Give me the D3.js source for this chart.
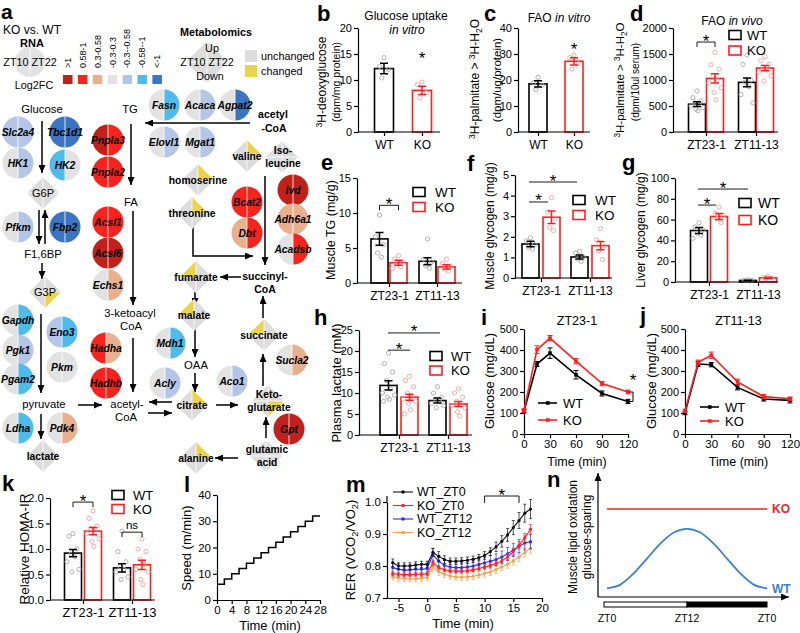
<!DOCTYPE html>
<html>
<head>
<meta charset="utf-8">
<script src="https://cdn.jsdelivr.net/npm/d3@7/dist/d3.min.js"></script>
<style>
  body { margin: 0; background: #fff; }
  text { font-family: Arial, "Liberation Sans", Helvetica, sans-serif; }
</style>
</head>
<body>
<script>
// ================= data =================
// a: RNA log2FC bins and genes (left half = ZT10, right half = ZT22)
var fcBins = [">1", "0.58-1", "0.3-0.58", "-0.3-0.3", "-0.3--0.58", "-0.58--1", "<-1"];
var fcColors = ["#c1211b", "#f7231c", "#e9b08d", "#e2e2e2", "#b3c6e7", "#4fbbeb", "#3b74c1"];
var genes = ["Slc2a4","Tbc1d1","HK1","HK2","Pfkm","Fbp2","Gapdh","Eno3","Pgk1","Pkm","Pgam2","Ldha","Pdk4",
             "Pnpla3","Pnpla2","Acsl1","Acsl6","Echs1","Hadha","Hadhb",
             "Fasn","Acaca","Agpat2","Elovl1","Mgat1","Bcat2","Dbt","Ivd","Adh6a1","Acadsb",
             "Mdh1","Acly","Aco1","Sucla2","Gpt"];
var geneZT10 = [4,6,3,5,3,6,3,4,3,3,3,3,3, 0,1,1,0,3,1,1, 3,3,3,3,3,1,2,0,2,3, 3,3,3,3,0];
var geneZT22 = [4,6,4,3,4,6,5,5,4,3,5,5,2, 1,1,1,0,2,2,1, 5,4,6,4,4,1,1,0,2,1, 5,4,4,2,0];
// metabolomics: which quadrant changed (tl = ZT10 up, tr = ZT22 up, bl = ZT10 down, br = ZT22 down)
var metabolites = ["G6P","G3P","lactate","valine","Iso-leucine","homoserine","threonine","fumarate",
                   "malate","citrate","succinate","Keto-glutarate","glutamic acid","alanine"];
var metChanged = ["","br","","tr","","tr","tr","tl","tl","tr","tl","br","","tr"];

// b glucose uptake in vitro
var uptakeMean = [12.2, 8.0], uptakeSem = [1.0, 0.8];
var uptakeDots = [[14.3, 12.6, 12.0, 10.4], [9.6, 9.1, 7.6, 6.6]];
// c FAO in vitro
var faoVitroMean = [18.5, 27.2], faoVitroSem = [1.2, 1.4];
var faoVitroDots = [[21.0, 19.0, 18.0, 16.3], [29.6, 28.6, 26.3, 24.2]];
// groups for d-h, k
var zt = ["ZT23-1", "ZT11-13"];
// d FAO in vivo
var faoWT = [535, 955], faoWTsem = [45, 85], faoKO = [1030, 1230], faoKOsem = [90, 50];
var faoWTdots = [[790,660,600,560,530,500,470,440,410], [1480,1300,1000,960,870,720,560]];
var faoKOdots = [[1530,1290,1210,1080,1000,940,850,760,620], [1450,1370,1300,1250,1190,1150,1080,980]];
// e muscle TG
var tgWT = [6.3, 3.1], tgWTsem = [0.9, 0.5], tgKO = [2.9, 2.3], tgKOsem = [0.35, 0.3];
var tgWTdots = [[9.7,6.6,5.5,4.3,3.7], [6.3,3.4,3.0,2.5,2.1]];
var tgKOdots = [[3.9,3.4,3.0,2.7,2.3,2.1], [3.4,2.8,2.4,2.0,1.7]];
// f muscle glycogen
var mgWT = [1.65, 1.02], mgWTsem = [0.13, 0.1], mgKO = [2.95, 1.57], mgKOsem = [0.3, 0.2];
var mgWTdots = [[1.95,1.8,1.62,1.5,1.4], [1.3,1.2,1.0,0.92,0.8]];
var mgKOdots = [[3.9,3.2,2.9,2.45,2.3], [2.4,1.85,1.55,1.3,0.9]];
// g liver glycogen
var lgWT = [49.5, 1.5], lgWTsem = [2.8, 0.3], lgKO = [63, 4], lgKOsem = [2.8, 0.6];
var lgWTdots = [[57,53,50,47,45,42], [2.2,1.8,1.5,1.2,0.9]];
var lgKOdots = [[72,66,64,61,57], [5.2,4.5,3.8,3.2]];
// h plasma lactate
var plWT = [11.8, 8.2], plWTsem = [1.1, 0.6], plKO = [9.0, 7.4], plKOsem = [0.7, 0.6];
var plWTdots = [[19.5,17,15,13,11,10,9.5,9,8.5,8], [11.5,10,9,8.5,8,7.5,7,6.5]];
var plKOdots = [[14,13,11.5,10,9,8.5,8,7.5,6,5], [11,10,9,8,7.5,7,6.5,5.5,4.5]];
// k HOMA-IR
var hoWT = [0.92, 0.63], hoWTsem = [0.07, 0.08], hoKO = [1.35, 0.69], hoKOsem = [0.07, 0.09];
var hoWTdots = [[1.3,1.25,1.0,0.9,0.85,0.75,0.6,0.55], [1.35,0.95,0.75,0.65,0.6,0.55,0.45,0.4]];
var hoKOdots = [[1.75,1.6,1.45,1.4,1.35,1.3,1.2,1.15,1.05], [1.2,1.0,0.95,0.8,0.7,0.6,0.55,0.4,0.3]];

// i, j glucose tolerance
var gttTime = [0, 15, 30, 60, 90, 120];
var gttWT1 = [108, 333, 385, 282, 193, 155], gttWT1sem = [8, 12, 25, 20, 12, 10];
var gttKO1 = [112, 402, 457, 347, 240, 200], gttKO1sem = [8, 18, 12, 13, 10, 9];
var gttWT2 = [100, 333, 330, 222, 167, 160], gttWT2sem = [8, 12, 10, 12, 10, 12];
var gttKO2 = [110, 342, 375, 248, 178, 168], gttKO2sem = [8, 10, 15, 13, 10, 8];

// l treadmill speed protocol
var runTime = [0,2,4,6,8,10,12,14,16,18,20,22,24,26,28];
var runSpeed = [6,8,10,12,14,16,18,20,22,24,26,28,30,32,32];

// m RER
var rerTime = [-6,-5,-4,-3,-2,-1,0,1,2,3,4,5,6,7,8,9,10,11,12,13,14,15,16,17,18];
var rerWT0 = [0.81,0.80,0.80,0.80,0.803,0.805,0.805,0.843,0.83,0.82,0.815,0.815,0.816,0.818,0.821,0.826,0.833,0.845,0.86,0.877,0.897,0.92,0.942,0.965,0.978];
var rerWT0sem = [0.012,0.01,0.01,0.01,0.01,0.01,0.01,0.012,0.015,0.012,0.01,0.01,0.01,0.01,0.01,0.01,0.012,0.012,0.015,0.018,0.02,0.022,0.025,0.028,0.03];
var rerKO0 = [0.776,0.774,0.773,0.773,0.774,0.774,0.776,0.81,0.795,0.788,0.785,0.784,0.784,0.785,0.788,0.792,0.797,0.802,0.808,0.816,0.828,0.845,0.865,0.888,0.915];
var rerKO0sem = [0.006,0.006,0.006,0.006,0.006,0.006,0.006,0.008,0.007,0.006,0.006,0.006,0.006,0.006,0.006,0.007,0.007,0.008,0.008,0.009,0.01,0.011,0.012,0.014,0.015];
var rerWT12 = [0.795,0.79,0.787,0.788,0.79,0.79,0.792,0.835,0.815,0.802,0.797,0.795,0.795,0.797,0.8,0.805,0.81,0.815,0.82,0.828,0.838,0.85,0.862,0.872,0.876];
var rerWT12sem = [0.018,0.017,0.016,0.016,0.016,0.016,0.017,0.02,0.018,0.016,0.015,0.015,0.015,0.015,0.016,0.016,0.017,0.018,0.018,0.019,0.02,0.02,0.021,0.022,0.022];
var rerKO12 = [0.766,0.763,0.762,0.76,0.76,0.762,0.764,0.797,0.782,0.774,0.769,0.766,0.765,0.766,0.768,0.772,0.777,0.782,0.789,0.797,0.806,0.816,0.828,0.842,0.855];
var rerKO12sem = [0.01,0.01,0.01,0.01,0.01,0.01,0.01,0.012,0.011,0.01,0.01,0.01,0.01,0.01,0.01,0.01,0.011,0.011,0.012,0.012,0.013,0.013,0.014,0.014,0.015];

// n schematic
var nZT = [0,2,4,6,8,10,12,14,16,18,20,22,24];
var nWT = [7,10,19,31,43,52,55,52,43,31,19,10,7];
var nKOzt = [0, 24], nKO = [71, 71];

// ================= layout (panel a) =================
var geneXY = {
  Slc2a4:[18,132], Tbc1d1:[65,132], HK1:[18,163], HK2:[65,165], Pfkm:[18,227], Fbp2:[65,227],
  Gapdh:[18,320], Eno3:[62,332], Pgk1:[18,350], Pkm:[62,367], Pgam2:[18,379], Ldha:[18,428], Pdk4:[62,428],
  Pnpla3:[108,140], Pnpla2:[108,172], Acsl1:[108,222], Acsl6:[108,253], Echs1:[108,285],
  Hadha:[106,348], Hadhb:[106,383],
  Fasn:[164,105], Acaca:[200,105], Agpat2:[235,105], Elovl1:[164,142], Mgat1:[200,142],
  Bcat2:[247,202], Dbt:[247,233], Ivd:[293,190], Adh6a1:[293,219], Acadsb:[293,249],
  Mdh1:[170,343], Acly:[165,383], Aco1:[232,381], Sucla2:[292,360], Gpt:[289,429]
};
var metXY = {
  "G6P":[43,193], "G3P":[45,292], "lactate":[43,456], "valine":[247,156], "Iso-leucine":[282,157],
  "homoserine":[198,180], "threonine":[192,213], "fumarate":[196,277], "malate":[194,315],
  "citrate":[192,405], "succinate":[264,335], "Keto-glutarate":[268,401], "glutamic acid":[266,456],
  "alanine":[196,458]
};
var freeText = [
  ["Glucose",42,113,0], ["TG",130,113,0], ["F1,6BP",43,258,0], ["FA",131,206,0],
  ["3-ketoacyl",130,317,0], ["CoA",131,330,0], ["pyruvate",44,408,0], ["acetyl-",127,408,0], ["CoA",126,421,0],
  ["acetyl",273,118,1], ["-CoA",274,132,1], ["succinyl-",265,280,1], ["CoA",265,293,1], ["OAA",196,369,0]
];
var arrows = [
  [42,121,42,173], [39,210,39,244], [45,244,45,210], [42,263,42,279], [41,314,41,393],
  [78,405,102,405], [41,414,41,439], [131,124,131,185], [133,211,133,305], [133,338,133,392],
  [250,123,145,123], [265,176,265,265], [241,277,220,277], [195,292,195,306], [195,329,195,357],
  [195,373,195,392], [172,402,149,402], [148,413,172,413], [216,405,238,405], [263,386,263,354],
  [263,318,263,296], [266,438,266,417], [238,458,215,458]
];

// ================= drawing =================
var WT_COL = "#000", KO_COL = "#ff1f1f", WT_DOT = "#a9a9a9", KO_DOT = "#f3a2a2";
var GREY_D = "#dcdcdc", YEL = "#ebd34c";
var jit = [0, -4, 4, -2, 2, -6, 6, -1, 1, -5, 5, -3, 3];

var svg = d3.select("body").append("svg").attr("width", 800).attr("height", 633)
  .style("background", "#fff");
svg.append("defs").append("marker").attr("id", "ah").attr("viewBox", "0 0 8 7")
  .attr("refX", 8).attr("refY", 3.5).attr("markerWidth", 8).attr("markerHeight", 7)
  .attr("markerUnits", "userSpaceOnUse").attr("orient", "auto")
  .append("path").attr("d", "M0,0L8,3.5L0,7Z").attr("fill", "#000");

function txt(g, x, y, s, o) {
  o = o || {};
  var t = g.append("text").attr("x", x).attr("y", y).attr("font-size", o.fs || 10.5)
    .attr("text-anchor", o.anchor || "middle").text(s);
  if (o.bold) t.attr("font-weight", "bold");
  if (o.italic) t.attr("font-style", "italic");
  if (o.fill) t.attr("fill", o.fill);
  return t;
}
// rotated axis title, parts = [[string, "sup"|"sub"|null], ...]
function vlabel(g, cx, cy, parts, fs) {
  var t = g.append("text").attr("transform", "translate(" + (cx + fs * 0.35) + "," + cy + ") rotate(-90)")
    .attr("text-anchor", "middle").attr("font-size", fs);
  var prev = 0;
  parts.forEach(function (p) {
    var s = p[1] === "sup" ? -fs * 0.38 : p[1] === "sub" ? fs * 0.25 : 0;
    t.append("tspan").attr("dy", s - prev).attr("font-size", p[1] ? fs * 0.72 : fs).text(p[0]);
    prev = s;
  });
}
function styleAxis(ax, fs) {
  ax.selectAll("text").attr("font-size", fs).attr("fill", "#000");
  ax.selectAll("line,path").attr("stroke", "#000").attr("stroke-width", 1.2);
}
function star(g, cx, lineY) {
  txt(g, cx, lineY + 4.5, "*", {fs: 17});
}
function panelLetter(s, x, y, fs) {
  txt(svg, x, y, s, {fs: fs || 22, bold: true, anchor: "start"});
}
function errBar(g, cx, yLo, yHi, cap, col, sw) {
  g.append("path").attr("d", "M" + cx + "," + yLo + "V" + yHi + "M" + (cx - cap) + "," + yHi + "H" + (cx + cap) +
    "M" + (cx - cap) + "," + yLo + "H" + (cx + cap))
    .attr("stroke", col).attr("stroke-width", sw).attr("fill", "none");
}

// ---------- panel a ----------
var A = svg.append("g");
panelLetter("a", 1, 19, 21);
function splitCircle(g, cx, cy, r, cl, cr) {
  var arc = d3.arc().innerRadius(0).outerRadius(r);
  var gg = g.append("g").attr("transform", "translate(" + cx + "," + cy + ")");
  gg.append("path").attr("d", arc({startAngle: Math.PI, endAngle: 2 * Math.PI})).attr("fill", cl);
  gg.append("path").attr("d", arc({startAngle: 0, endAngle: Math.PI})).attr("fill", cr);
  gg.append("line").attr("y1", -r).attr("y2", r).attr("stroke", "#fff").attr("stroke-width", 0.8);
  return gg;
}
function diamond(g, cx, cy, h, q) {
  var gg = g.append("g").attr("transform", "translate(" + cx + "," + cy + ")");
  var tri = {tl: [[-h, 0], [0, -h]], tr: [[0, -h], [h, 0]], br: [[h, 0], [0, h]], bl: [[0, h], [-h, 0]]};
  Object.keys(tri).forEach(function (k) {
    gg.append("path").attr("d", "M0,0L" + tri[k][0] + "L" + tri[k][1] + "Z").attr("fill", k === q ? YEL : GREY_D);
  });
  gg.append("path").attr("d", "M" + (-h) + ",0H" + h + "M0," + (-h) + "V" + h)
    .attr("stroke", "#fff").attr("stroke-width", 0.8);
}

// RNA legend
txt(A, 3, 34, "KO vs. WT", {fs: 12, anchor: "start"});
txt(A, 32, 47, "RNA", {fs: 11, bold: true});
splitCircle(A, 30, 62, 15, fcColors[3], fcColors[3]);
txt(A, 30, 66, "ZT10 ZT22", {fs: 10.8});
txt(A, 34, 89, "Log2FC", {fs: 10.8});
fcBins.forEach(function (b, i) {
  var x0 = 63 + i * 14.9;
  A.append("rect").attr("x", x0).attr("y", 75).attr("width", 9.5).attr("height", 9).attr("fill", fcColors[i]);
  A.append("text").attr("transform", "translate(" + (x0 + 4.75 + 3.1) + ",68) rotate(-90)")
    .attr("font-size", 9).text(b);
});
// metabolomics legend
txt(A, 216, 36, "Metabolomics", {fs: 10.8, bold: true});
diamond(A, 207, 62, 21, "");
txt(A, 212, 52, "Up", {fs: 10.8});
txt(A, 207, 66, "ZT10  ZT22", {fs: 10.8});
txt(A, 210, 80, "Down", {fs: 10.8});
A.append("rect").attr("x", 245).attr("y", 50).attr("width", 12).attr("height", 12).attr("fill", GREY_D);
A.append("rect").attr("x", 245).attr("y", 65).attr("width", 12).attr("height", 12).attr("fill", YEL);
txt(A, 261, 60, "unchanged", {fs: 10.8, anchor: "start"});
txt(A, 261, 75, "changed", {fs: 10.8, anchor: "start"});

// arrows
arrows.forEach(function (a) {
  A.append("line").attr("x1", a[0]).attr("y1", a[1]).attr("x2", a[2]).attr("y2", a[3])
    .attr("stroke", "#000").attr("stroke-width", 1.5).attr("marker-end", "url(#ah)");
});
A.append("path").attr("d", d3.line()([[193, 223], [193, 256], [253, 256]]))
  .attr("fill", "none").attr("stroke", "#000").attr("stroke-width", 1.5).attr("marker-end", "url(#ah)");

// metabolite diamonds
metabolites.forEach(function (m, i) {
  var p = metXY[m];
  diamond(A, p[0], p[1], 16, metChanged[i]);
});
var metLines = {"Iso-leucine": ["Iso-", "leucine"], "Keto-glutarate": ["Keto-", "glutarate"],
                "glutamic acid": ["glutamic", "acid"]};
metabolites.forEach(function (m) {
  var p = metXY[m];
  var plain = (m === "G6P" || m === "G3P");
  if (metLines[m]) {
    txt(A, p[0] + 1, p[1] - 3, metLines[m][0], {fs: 10.3, bold: true});
    txt(A, p[0] + 1, p[1] + 10, metLines[m][1], {fs: 10.3, bold: true});
  } else {
    txt(A, p[0], p[1] + 3.8, m, {fs: plain ? 11 : 10.3, bold: !plain});
  }
});
freeText.forEach(function (t) {
  txt(A, t[1], t[2], t[0], {fs: t[3] === 1 ? 10.5 : 11.3, bold: t[3] === 1});
});
// gene circles
genes.forEach(function (gname, i) {
  var p = geneXY[gname];
  splitCircle(A, p[0], p[1], 15.5, fcColors[geneZT10[i]], fcColors[geneZT22[i]]);
  txt(A, p[0], p[1] + 3.6, gname, {fs: 10.3, bold: true, italic: true});
});

// ---------- bar panels ----------
function grouped(off, wtM, wtS, wtD, koM, koS, koD) {
  var out = [];
  zt.forEach(function (c, i) {
    out.push({cat: c, dx: -off, geno: 0, mean: wtM[i], sem: wtS[i], dots: wtD[i]});
    out.push({cat: c, dx: off, geno: 1, mean: koM[i], sem: koS[i], dots: koD[i]});
  });
  return out;
}
function pair(mean, sem, dots) {
  return [{cat: "WT", dx: 0, geno: 0, mean: mean[0], sem: sem[0], dots: dots[0]},
          {cat: "KO", dx: 0, geno: 1, mean: mean[1], sem: sem[1], dots: dots[1]}];
}
function barPanel(p) {
  var g = svg.append("g");
  var y = d3.scaleLinear().domain(p.yDomain).range(p.yRange);
  var x = d3.scalePoint().domain(p.cats).range(p.catRange);
  var y0 = y(p.yDomain[0]);
  p.bars.forEach(function (b) {
    var cx = x(b.cat) + b.dx, col = b.geno ? KO_COL : WT_COL;
    g.append("rect").attr("x", cx - p.bw / 2).attr("y", y(b.mean)).attr("width", p.bw)
      .attr("height", y0 - y(b.mean)).attr("fill", "#fff").attr("stroke", col).attr("stroke-width", 1.6);
    b.dots.forEach(function (v, j) {
      g.append("circle").attr("cx", cx + jit[j % jit.length] * p.bw / 17).attr("cy", y(v)).attr("r", 2.1)
        .attr("fill", "none").attr("stroke", b.geno ? KO_DOT : WT_DOT).attr("stroke-width", 0.9);
    });
    errBar(g, cx, y(b.mean - b.sem), y(b.mean + b.sem), 4, col, 1.5);
  });
  var ya = g.append("g").attr("transform", "translate(" + p.axisX + ",0)")
    .call(d3.axisLeft(y).tickValues(p.ticks).tickFormat(p.fmt || d3.format("d"))
      .tickSize(4).tickSizeOuter(0).tickPadding(2));
  styleAxis(ya, p.tfs || 11);
  g.append("line").attr("x1", p.axisX).attr("x2", p.xEnd).attr("y1", y0).attr("y2", y0)
    .attr("stroke", "#000").attr("stroke-width", 1.2);
  var xa = g.append("g").attr("transform", "translate(0," + y0 + ")")
    .call(d3.axisBottom(x).tickSize(4).tickPadding(p.xpad || 4));
  xa.select(".domain").remove();
  styleAxis(xa, p.xfs || 12);
  (p.sig || []).forEach(function (s) {
    var x1 = x(s.c1) + s.d1, x2 = x(s.c2) + s.d2, yy = y(s.v);
    if (!s.noLine) {
      var d = s.tick ? "M" + x1 + "," + (yy + 5) + "V" + yy + "H" + x2 + "V" + (yy + 5) : "M" + x1 + "," + yy + "H" + x2;
      g.append("path").attr("d", d).attr("fill", "none").attr("stroke", "#000").attr("stroke-width", 0.9);
    }
    if (s.t === "*") star(g, (x1 + x2) / 2, yy);
    else txt(g, (x1 + x2) / 2, yy - 3, s.t, {fs: 11.5});
  });
  if (p.legend) {
    var L = p.legend;
    [WT_COL, KO_COL].forEach(function (c, i) {
      var cy = L.y + i * L.dy;
      g.append("rect").attr("x", L.x).attr("y", cy - 4.5).attr("width", 12).attr("height", 9)
        .attr("fill", "#fff").attr("stroke", c).attr("stroke-width", 1.6);
      txt(g, L.tx, cy + L.fs * 0.36, i ? "KO" : "WT", {fs: L.fs, anchor: "start"});
    });
  }
  p.ylab.forEach(function (l) { vlabel(g, l.x, l.y, l.parts, l.fs); });
  return g;
}

var palm = [["3", "sup"], ["H-palmitate > "], ["3", "sup"], ["H-H"], ["2", "sub"], ["O"]];

// b
panelLetter("b", 317, 21);
var gb = barPanel({cats: ["WT", "KO"], catRange: [384, 422], bw: 19, yDomain: [0, 20], yRange: [132, 28],
  ticks: [0, 5, 10, 15, 20], axisX: 358, xEnd: 440, bars: pair(uptakeMean, uptakeSem, uptakeDots),
  sig: [{c1: "KO", d1: 0, c2: "KO", d2: 0, v: 14.0, t: "*", noLine: true}],
  ylab: [{x: 322, y: 82, fs: 12, parts: [["3", "sup"], ["H-deoxyglucose"]]},
         {x: 336, y: 82, fs: 10.5, parts: [["(dpm/mg protein)"]]}]});
txt(gb, 406, 20, "Glucose uptake", {fs: 12});
txt(gb, 407, 34, "in vitro", {fs: 12, italic: true});

// c
panelLetter("c", 484, 21);
var gc = barPanel({cats: ["WT", "KO"], catRange: [538, 574], bw: 18, yDomain: [0, 40], yRange: [132, 28],
  ticks: [0, 10, 20, 30, 40], axisX: 518, xEnd: 590, bars: pair(faoVitroMean, faoVitroSem, faoVitroDots),
  sig: [{c1: "KO", d1: 0, c2: "KO", d2: 0, v: 31.2, t: "*", noLine: true}],
  ylab: [{x: 475, y: 79, fs: 12, parts: palm}, {x: 497, y: 80, fs: 11.5, parts: [["(dpm/ug/protein)"]]}]});
var tc = txt(gc, 559, 22, "FAO ", {fs: 12});
tc.append("tspan").attr("font-style", "italic").text("in vitro");

// d
panelLetter("d", 630, 21);
var gd = barPanel({cats: zt, catRange: [706, 756], bw: 17, yDomain: [0, 2000], yRange: [132, 28],
  ticks: [0, 500, 1000, 1500, 2000], axisX: 673, xEnd: 778,
  bars: grouped(9, faoWT, faoWTsem, faoWTdots, faoKO, faoKOsem, faoKOdots),
  sig: [{c1: "ZT23-1", d1: -9, c2: "ZT23-1", d2: 9, v: 1730, tick: true, t: "*"}],
  legend: {x: 729, y: 35, dy: 15.5, tx: 747, fs: 13},
  ylab: [{x: 620, y: 80, fs: 11.5, parts: palm}, {x: 635, y: 82, fs: 10, parts: [["(dpm/10ul serum)"]]}]});
var td = txt(gd, 732, 25, "FAO ", {fs: 12});
td.append("tspan").attr("font-style", "italic").text("in vivo");

// e
panelLetter("e", 321, 170);
barPanel({cats: zt, catRange: [389, 437], bw: 17, yDomain: [0, 15], yRange: [283, 178],
  ticks: [0, 5, 10, 15], axisX: 357, xEnd: 462,
  bars: grouped(9.5, tgWT, tgWTsem, tgWTdots, tgKO, tgKOsem, tgKOdots),
  sig: [{c1: "ZT23-1", d1: -9.5, c2: "ZT23-1", d2: 9.5, v: 11.1, tick: true, t: "*"}],
  legend: {x: 413, y: 192, dy: 15, tx: 435, fs: 13.5},
  ylab: [{x: 331, y: 230, fs: 12.5, parts: [["Muscle TG (mg/g)"]]}]});

// f
panelLetter("f", 467, 171);
barPanel({cats: zt, catRange: [541, 590], bw: 17, yDomain: [0, 5], yRange: [278, 175],
  ticks: [0, 1, 2, 3, 4, 5], axisX: 515, xEnd: 612,
  bars: grouped(10.5, mgWT, mgWTsem, mgWTdots, mgKO, mgKOsem, mgKOdots),
  sig: [{c1: "ZT23-1", d1: -12, c2: "ZT23-1", d2: 7, v: 3.69, t: "*"},
        {c1: "ZT23-1", d1: -12, c2: "ZT11-13", d2: -13, v: 4.66, t: "*"}],
  legend: {x: 573, y: 200, dy: 15, tx: 595, fs: 13.5},
  ylab: [{x: 490, y: 226, fs: 12, parts: [["Muscle glycogen (mg/g)"]]}]});

// g
panelLetter("g", 622, 170);
barPanel({cats: zt, catRange: [709, 758], bw: 17, yDomain: [0, 100], yRange: [282, 178],
  ticks: [0, 20, 40, 60, 80, 100], axisX: 675, xEnd: 778,
  bars: grouped(10, lgWT, lgWTsem, lgWTdots, lgKO, lgKOsem, lgKOdots),
  sig: [{c1: "ZT23-1", d1: -11, c2: "ZT23-1", d2: 7, v: 74, t: "*"},
        {c1: "ZT23-1", d1: -11, c2: "ZT11-13", d2: -10, v: 89.4, t: "*"}],
  legend: {x: 739, y: 203, dy: 17, tx: 758, fs: 14},
  ylab: [{x: 641, y: 230, fs: 12, parts: [["Liver glycogen (mg/g)"]]}]});

// h
panelLetter("h", 314, 325);
barPanel({cats: zt, catRange: [399, 448], bw: 17, yDomain: [0, 25], yRange: [435, 330],
  ticks: [0, 5, 10, 15, 20, 25], axisX: 359, xEnd: 472,
  bars: grouped(10.5, plWT, plWTsem, plWTdots, plKO, plKOsem, plKOdots),
  sig: [{c1: "ZT23-1", d1: -11, c2: "ZT23-1", d2: 11, v: 20.2, t: "*"},
        {c1: "ZT23-1", d1: -11, c2: "ZT11-13", d2: -8, v: 24.3, t: "*"}],
  legend: {x: 430, y: 356, dy: 14.5, tx: 451, fs: 13},
  ylab: [{x: 336, y: 383, fs: 13, parts: [["Plasma lactate (mM)"]]}]});

// k
panelLetter("k", 2, 491);
barPanel({cats: zt, catRange: [83, 132], bw: 17, yDomain: [0, 2], yRange: [600, 498],
  ticks: [0, 0.5, 1, 1.5, 2], fmt: d3.format(".1f"), tfs: 11.5, xfs: 13, axisX: 50, xEnd: 155,
  bars: grouped(10, hoWT, hoWTsem, hoWTdots, hoKO, hoKOsem, hoKOdots),
  sig: [{c1: "ZT23-1", d1: -10, c2: "ZT23-1", d2: 10, v: 1.92, tick: true, t: "*"},
        {c1: "ZT11-13", d1: -10, c2: "ZT11-13", d2: 10, v: 1.33, tick: true, t: "ns"}],
  legend: {x: 112, y: 495, dy: 14, tx: 133, fs: 13},
  ylab: [{x: 24, y: 549, fs: 13.5, parts: [["Relative HOMA-IR"]]}]});

// ---------- i, j glucose tolerance ----------
function gttPanel(p) {
  var g = svg.append("g");
  var x = d3.scaleLinear().domain([0, 120]).range([p.x0, p.x1]);
  var y = d3.scaleLinear().domain([0, 500]).range([434, 329]);
  var ya = g.append("g").attr("transform", "translate(" + p.x0 + ",0)")
    .call(d3.axisLeft(y).tickValues([0, 100, 200, 300, 400, 500]).tickSize(4).tickSizeOuter(0).tickPadding(2));
  styleAxis(ya, 11);
  var xa = g.append("g").attr("transform", "translate(0,434)")
    .call(d3.axisBottom(x).tickValues(gttTime.filter(function (t) { return t !== 15; }))
      .tickSize(4).tickSizeOuter(0).tickPadding(2));
  styleAxis(xa, 11.5);
  var line = d3.line().x(function (d, i) { return x(gttTime[i]); }).y(function (d) { return y(d); });
  p.series.forEach(function (s) {
    s.v.forEach(function (v, i) {
      errBar(g, x(gttTime[i]), y(v - s.s[i]), y(v + s.s[i]), 2.5, s.col, 1);
    });
    g.append("path").attr("d", line(s.v)).attr("fill", "none").attr("stroke", s.col).attr("stroke-width", 1.6);
    s.v.forEach(function (v, i) {
      g.append("rect").attr("x", x(gttTime[i]) - 1.8).attr("y", y(v) - 1.8).attr("width", 3.6).attr("height", 3.6)
        .attr("fill", s.col);
    });
  });
  ["WT", "KO"].forEach(function (n, i) {
    var ly = p.legY[i], col = i ? KO_COL : WT_COL;
    g.append("line").attr("x1", p.legX).attr("x2", p.legX + 19).attr("y1", ly).attr("y2", ly)
      .attr("stroke", col).attr("stroke-width", 1.6);
    g.append("rect").attr("x", p.legX + 8).attr("y", ly - 1.8).attr("width", 3.6).attr("height", 3.6).attr("fill", col);
    txt(g, p.legX + 25, ly + 4.7, n, {fs: 13, anchor: "start"});
  });
  txt(g, (p.x0 + p.x1) / 2 + 1, 325, p.title, {fs: 12.5});
  txt(g, (p.x0 + p.x1) / 2 + 1, 466, "Time (min)", {fs: 12.5});
  vlabel(g, p.labX, 381, [["Glucose (mg/dL)"]], 13);
  return {g: g, x: x, y: y};
}
panelLetter("i", 481, 325);
var pi = gttPanel({x0: 524, x1: 628, title: "ZT23-1", labX: 489, legX: 538, legY: [403, 420],
  series: [{v: gttWT1, s: gttWT1sem, col: WT_COL}, {v: gttKO1, s: gttKO1sem, col: KO_COL}]});
pi.g.append("path").attr("d", "M" + (pi.x(120) + 1) + "," + pi.y(gttKO1[5]) + "H" + (pi.x(120) + 5) +
  "V" + pi.y(gttWT1[5]) + "H" + (pi.x(120) + 1)).attr("fill", "none").attr("stroke", "#000").attr("stroke-width", 1);
txt(pi.g, pi.x(120) + 5, 386, "*", {fs: 17});
panelLetter("j", 640, 323);
gttPanel({x0: 685, x1: 790, title: "ZT11-13", labX: 651, legX: 700, legY: [407, 421],
  series: [{v: gttWT2, s: gttWT2sem, col: WT_COL}, {v: gttKO2, s: gttKO2sem, col: KO_COL}]});

// ---------- l treadmill ----------
panelLetter("l", 184, 492);
var Lg = svg.append("g");
var lx = d3.scaleLinear().domain([0, 28]).range([217, 320]);
var ly = d3.scaleLinear().domain([0, 40]).range([600, 495]);
styleAxis(Lg.append("g").attr("transform", "translate(217,0)")
  .call(d3.axisLeft(ly).tickValues([0, 10, 20, 30, 40]).tickSize(4).tickSizeOuter(0).tickPadding(2)), 11.5);
styleAxis(Lg.append("g").attr("transform", "translate(0,600)")
  .call(d3.axisBottom(lx).tickValues([0, 4, 8, 12, 16, 20, 24, 28]).tickSize(4).tickSizeOuter(0).tickPadding(2)), 11.5);
Lg.append("path").attr("d", d3.line().curve(d3.curveStepAfter)
    .x(function (d, i) { return lx(runTime[i]); }).y(function (d) { return ly(d); })(runSpeed))
  .attr("fill", "none").attr("stroke", "#000").attr("stroke-width", 1.5);
vlabel(Lg, 186, 548, [["Speed (m/min)"]], 13);
txt(Lg, 270, 630, "Time (min)", {fs: 13});

// ---------- m RER ----------
panelLetter("m", 346, 492);
var Mg = svg.append("g");
var mx = d3.scaleLinear().domain([-7, 20]).range([387, 542]);
var my = d3.scaleLinear().domain([0.7, 1.0]).range([598, 502]);
styleAxis(Mg.append("g").attr("transform", "translate(387,0)")
  .call(d3.axisLeft(my).tickValues([0.7, 0.8, 0.9, 1.0]).tickFormat(d3.format(".1f"))
    .tickSize(4).tickSizeOuter(0).tickPadding(2)), 11.5);
Mg.append("line").attr("x1", 387).attr("x2", 387).attr("y1", 502).attr("y2", 496).attr("stroke", "#000").attr("stroke-width", 1.2);
styleAxis(Mg.append("g").attr("transform", "translate(0,598)")
  .call(d3.axisBottom(mx).tickValues([-5, 0, 5, 10, 15, 20]).tickFormat(function (d) { return String(d); })
    .tickSize(4).tickSizeOuter(0).tickPadding(2)), 11.5);
var rerSeries = [
  {name: "KO_ZT12", v: rerKO12, s: rerKO12sem, col: "#f5a04c"},
  {name: "WT_ZT12", v: rerWT12, s: rerWT12sem, col: "#2b2bff"},
  {name: "KO_ZT0", v: rerKO0, s: rerKO0sem, col: "#ff2222"},
  {name: "WT_ZT0", v: rerWT0, s: rerWT0sem, col: "#111"}
];
var rline = d3.line().x(function (d, i) { return mx(rerTime[i]); }).y(function (d) { return my(d); });
rerSeries.forEach(function (s) {
  s.v.forEach(function (v, i) {
    errBar(Mg, mx(rerTime[i]), my(v - s.s[i]), my(v + s.s[i]), 1.5, s.col, 0.7);
  });
  Mg.append("path").attr("d", rline(s.v)).attr("fill", "none").attr("stroke", s.col).attr("stroke-width", 1.1);
  s.v.forEach(function (v, i) {
    Mg.append("circle").attr("cx", mx(rerTime[i])).attr("cy", my(v)).attr("r", 1.6).attr("fill", s.col);
  });
});
rerSeries.slice().reverse().forEach(function (s, i) {
  var yy = 492 + i * 13.5;
  Mg.append("line").attr("x1", 393).attr("x2", 413).attr("y1", yy).attr("y2", yy).attr("stroke", s.col).attr("stroke-width", 1.1);
  Mg.append("circle").attr("cx", 403).attr("cy", yy).attr("r", 1.8).attr("fill", s.col);
  txt(Mg, 417, yy + 4.3, s.name, {fs: 12.5, anchor: "start"});
});
Mg.append("path").attr("d", "M" + mx(10) + ",503V496H" + mx(16) + "V503")
  .attr("fill", "none").attr("stroke", "#000").attr("stroke-width", 0.9);
star(Mg, (mx(10) + mx(16)) / 2, 496);
vlabel(Mg, 350, 550, [["RER (VCO"], ["2", "sub"], ["/VO"], ["2", "sub"], [")"]], 13);
txt(Mg, 463, 628, "Time (min)", {fs: 13});

// ---------- n schematic ----------
panelLetter("n", 547, 487);
var Ng = svg.append("g");
var nx = d3.scaleLinear().domain([0, 24]).range([607, 767]);
var ny = d3.scaleLinear().domain([0, 100]).range([597, 473]);
Ng.append("line").attr("x1", 598).attr("x2", 598).attr("y1", 597).attr("y2", 473)
  .attr("stroke", "#000").attr("stroke-width", 1.2).attr("marker-end", "url(#ah)");
Ng.append("line").attr("x1", 598).attr("x2", 789).attr("y1", 597).attr("y2", 597)
  .attr("stroke", "#000").attr("stroke-width", 1.2).attr("marker-end", "url(#ah)");
Ng.append("path").attr("d", d3.line().x(function (d, i) { return nx(nKOzt[i]); }).y(function (d) { return ny(d); })(nKO))
  .attr("stroke", "#ff2020").attr("stroke-width", 1.6).attr("fill", "none");
Ng.append("path").attr("d", d3.line().curve(d3.curveMonotoneX)
    .x(function (d, i) { return nx(nZT[i]); }).y(function (d) { return ny(d); })(nWT))
  .attr("stroke", "#3d80cc").attr("stroke-width", 1.8).attr("fill", "none");
txt(Ng, nx(24) + 5, ny(nKO[1]) + 4.5, "KO", {fs: 12, bold: true, anchor: "start", fill: "#ff2020"});
txt(Ng, nx(24) + 5, ny(nWT[12]) + 4.5, "WT", {fs: 12, bold: true, anchor: "start", fill: "#3d80cc"});
Ng.append("rect").attr("x", nx(0) - 3).attr("y", 602).attr("width", nx(12) - nx(0) + 3).attr("height", 5)
  .attr("fill", "#fff").attr("stroke", "#000").attr("stroke-width", 1);
Ng.append("rect").attr("x", nx(12)).attr("y", 602).attr("width", nx(24) - nx(12)).attr("height", 5)
  .attr("fill", "#000").attr("stroke", "#000").attr("stroke-width", 1);
[["ZT0", 0], ["ZT12", 12], ["ZT0", 24]].forEach(function (t) {
  txt(Ng, nx(t[1]), 622, t[0], {fs: 10.5});
});
vlabel(Ng, 573, 537, [["Muscle lipid oxidation"]], 12);
vlabel(Ng, 587, 537, [["glucose-sparing"]], 12);
</script>
</body>
</html>
